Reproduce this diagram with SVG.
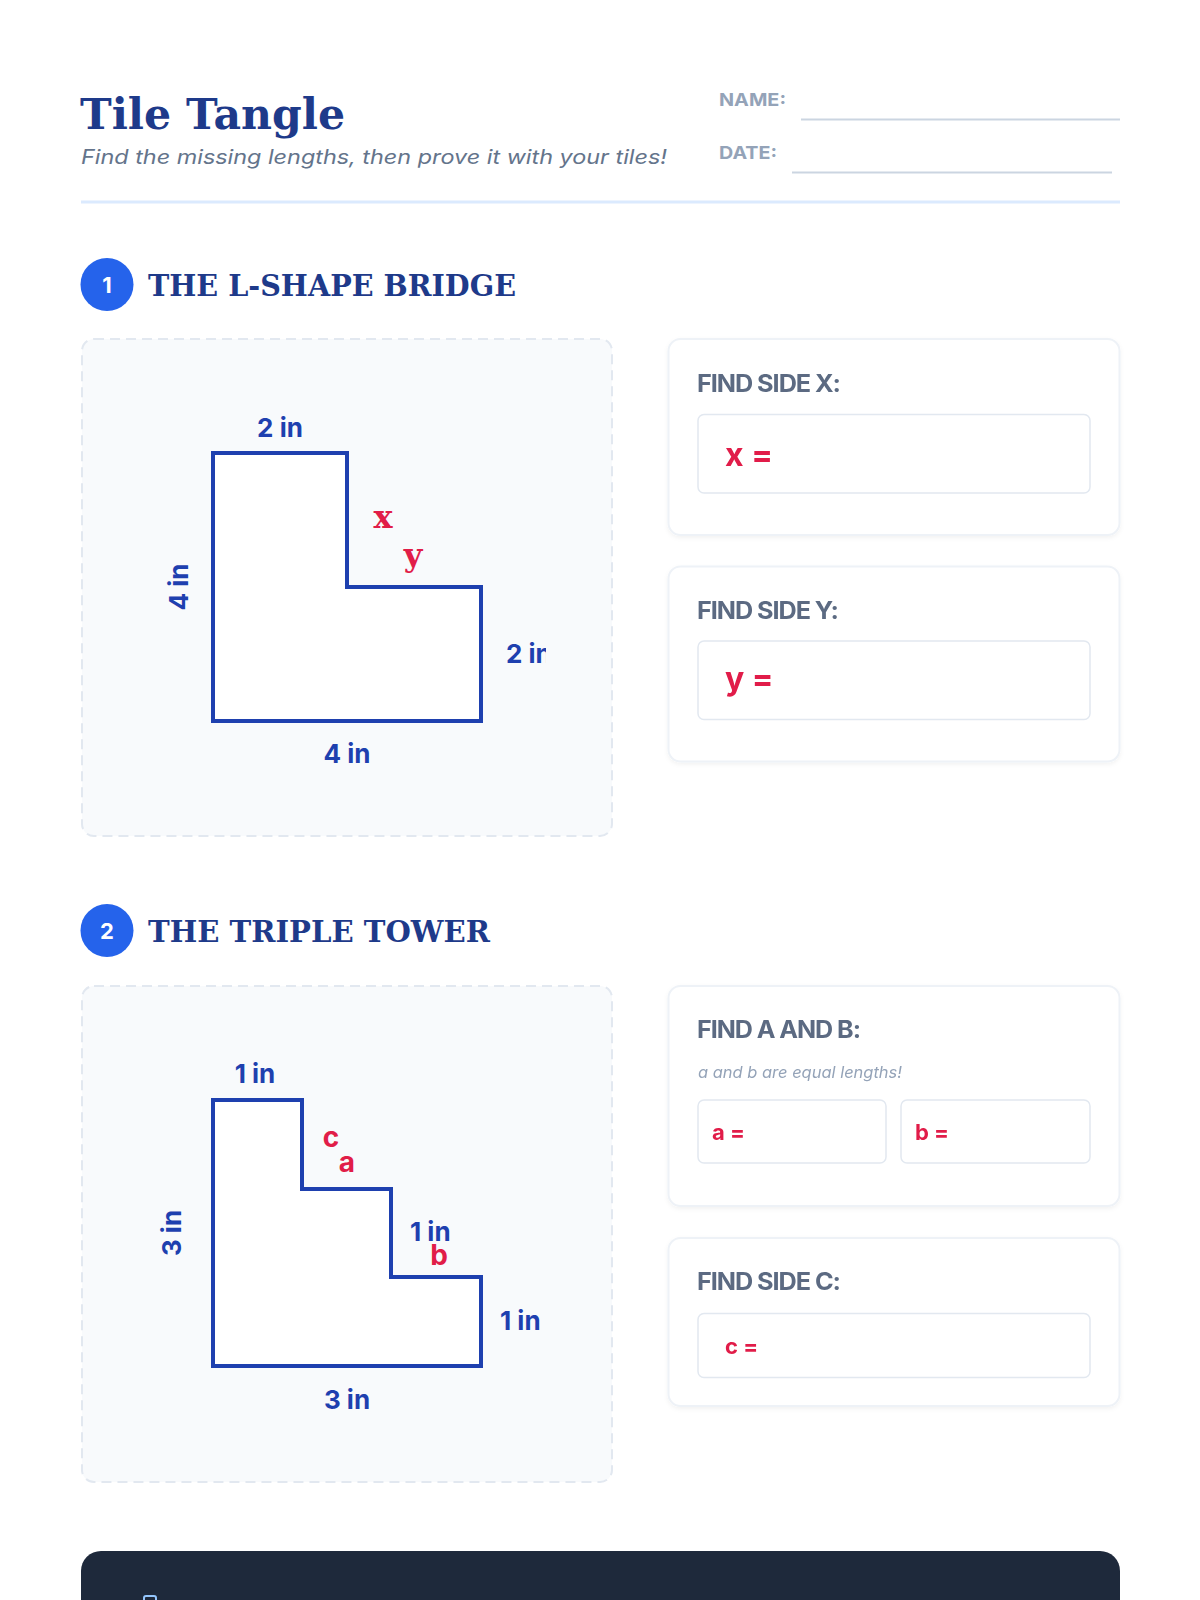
<svg xmlns="http://www.w3.org/2000/svg" width="1200" height="1600" viewBox="0 0 1200 1600">
<style>
.slab{font-family:"DejaVu Serif","Liberation Serif",serif;font-weight:bold}
.sans{font-family:Inter,"Liberation Sans",sans-serif}
.title{fill:#1e3a8a;font-size:42px}
.sub{fill:#64748b;font-size:20px;font-style:italic}
.meta{fill:#94a3b8;font-size:18px;font-weight:700}
.metaline{stroke:#cbd5e1;stroke-width:2}
.badge{fill:#2563eb}
.badgetxt{fill:#fff;font-size:22px;font-weight:700}
.head{fill:#1e3a8a;font-size:30px}
.panel{fill:#f8fafc;stroke:#e2e8f0;stroke-width:2;stroke-dasharray:10 6}
.shape{fill:#fff;stroke:#1e40af;stroke-width:4;stroke-linejoin:miter}
.dim{fill:#1e40af;font-size:26px;font-weight:700}
.var{fill:#e11d48;font-size:32px}
.vars{fill:#e11d48;font-size:28px;font-weight:700}
.card{fill:#fff;stroke:#eef2f7;stroke-width:2}
.cardlbl{fill:#5b6b82;font-size:24px;font-weight:700;letter-spacing:-1px}
.input{fill:#fff;stroke:#e2e8f0;stroke-width:1.5}
.ans{fill:#e11d48;font-weight:700}
.hint{fill:#94a3b8;font-size:16px;font-style:italic}
</style>
<defs>
<filter id="sh" x="-5%" y="-5%" width="110%" height="115%">
<feDropShadow dx="0" dy="2" stdDeviation="2" flood-color="#0f172a" flood-opacity="0.05"/>
</filter>
<clipPath id="clipR"><rect x="480" y="620" width="66" height="60"/></clipPath>
</defs>

<g id="header">
<text class="slab title" x="80" y="129" textLength="265" lengthAdjust="spacingAndGlyphs">Tile Tangle</text>
<text class="sans sub" x="81" y="164" textLength="586" lengthAdjust="spacingAndGlyphs">Find the missing lengths, then prove it with your tiles!</text>
<text class="sans meta" x="719" y="106" textLength="67" lengthAdjust="spacingAndGlyphs">NAME:</text>
<line class="metaline" x1="801" y1="119.5" x2="1120" y2="119.5"/>
<text class="sans meta" x="719" y="159" textLength="58" lengthAdjust="spacingAndGlyphs">DATE:</text>
<line class="metaline" x1="792" y1="172.5" x2="1112" y2="172.5"/>
<line x1="81" y1="202" x2="1120" y2="202" stroke="#dbeafe" stroke-width="3"/>
</g>

<g id="section1-title">
<circle class="badge" cx="107" cy="284.5" r="26.5"/>
<text class="sans badgetxt" x="107" y="292.5" text-anchor="middle">1</text>
<text class="slab head" x="148" y="296" textLength="368" lengthAdjust="spacingAndGlyphs">THE L-SHAPE BRIDGE</text>
</g>

<g id="panel1">
<rect class="panel" x="82" y="339" width="530" height="497" rx="12"/>
<path class="shape" d="M213 453 H347 V587 H481 V721 H213 Z"/>
<text class="sans dim" x="280" y="437" text-anchor="middle">2 in</text>
<text class="sans dim" transform="translate(188,587) rotate(-90)" text-anchor="middle">4 in</text>
<text class="sans dim" x="506" y="663" clip-path="url(#clipR)">2 in</text>
<text class="sans dim" x="347" y="763" text-anchor="middle">4 in</text>
<text class="slab var" x="383" y="528" text-anchor="middle">x</text>
<text class="slab var" x="413" y="566" text-anchor="middle">y</text>
</g>

<g id="card-x" filter="url(#sh)">
<rect class="card" x="668.5" y="339" width="451" height="196" rx="12"/>
<text class="sans cardlbl" x="697" y="392" textLength="143" lengthAdjust="spacingAndGlyphs">FIND SIDE X:</text>
<rect class="input" x="698" y="414.5" width="392" height="78.5" rx="6"/>
<text class="sans ans" x="725" y="466" font-size="32">x =</text>
</g>

<g id="card-y" filter="url(#sh)">
<rect class="card" x="668.5" y="566.5" width="451" height="195" rx="12"/>
<text class="sans cardlbl" x="697" y="619" textLength="141" lengthAdjust="spacingAndGlyphs">FIND SIDE Y:</text>
<rect class="input" x="698" y="641" width="392" height="78.5" rx="6"/>
<text class="sans ans" x="725" y="690" font-size="32">y =</text>
</g>

<g id="section2-title">
<circle class="badge" cx="107" cy="930.5" r="26.5"/>
<text class="sans badgetxt" x="107" y="938.5" text-anchor="middle">2</text>
<text class="slab head" x="148" y="942" textLength="342" lengthAdjust="spacingAndGlyphs">THE TRIPLE TOWER</text>
</g>

<g id="panel2">
<rect class="panel" x="82" y="986" width="530" height="496" rx="12"/>
<path class="shape" d="M213 1100 H302 V1189 H391 V1277 H481 V1366 H213 Z"/>
<text class="sans dim" x="255" y="1083" text-anchor="middle">1 in</text>
<text class="sans dim" transform="translate(181,1233) rotate(-90)" text-anchor="middle">3 in</text>
<text class="sans dim" x="410" y="1241">1 in</text>
<text class="sans dim" x="500" y="1330">1 in</text>
<text class="sans dim" x="347" y="1409" text-anchor="middle">3 in</text>
<text class="sans vars" x="331" y="1147" text-anchor="middle">c</text>
<text class="sans vars" x="347" y="1172" text-anchor="middle">a</text>
<text class="sans vars" x="439" y="1265" text-anchor="middle">b</text>
</g>

<g id="card-ab" filter="url(#sh)">
<rect class="card" x="668.5" y="986" width="451" height="220" rx="12"/>
<text class="sans cardlbl" x="697" y="1038" textLength="163" lengthAdjust="spacingAndGlyphs">FIND A AND B:</text>
<text class="sans hint" x="698" y="1078" textLength="204" lengthAdjust="spacingAndGlyphs">a and b are equal lengths!</text>
<rect class="input" x="698" y="1100" width="188" height="63" rx="6"/>
<text class="sans ans" x="712" y="1140" font-size="22">a =</text>
<rect class="input" x="901" y="1100" width="189" height="63" rx="6"/>
<text class="sans ans" x="915" y="1140" font-size="22">b =</text>
</g>

<g id="card-c" filter="url(#sh)">
<rect class="card" x="668.5" y="1238" width="451" height="168" rx="12"/>
<text class="sans cardlbl" x="697" y="1290" textLength="143" lengthAdjust="spacingAndGlyphs">FIND SIDE C:</text>
<rect class="input" x="698" y="1313.5" width="392" height="64" rx="6"/>
<text class="sans ans" x="725" y="1354" font-size="22">c =</text>
</g>

<g id="footer">
<rect x="81" y="1551" width="1039" height="120" rx="20" fill="#1e293b"/>
<rect x="144" y="1596" width="12" height="10" rx="2" fill="none" stroke="#93c5fd" stroke-width="2"/>
</g>

<g id="connectors"/>
</svg>
